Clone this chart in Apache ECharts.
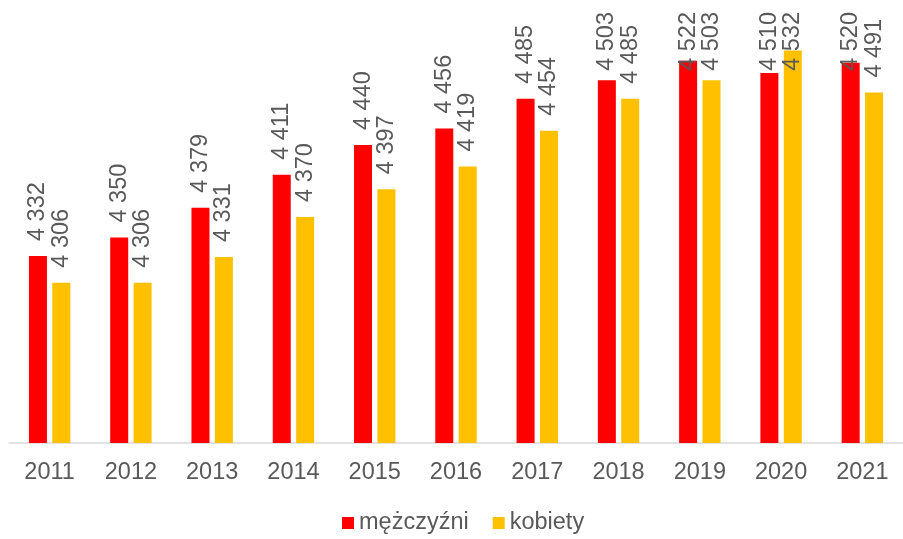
<!DOCTYPE html>
<html lang="pl">
<head>
    <meta charset="UTF-8">
    <title>mężczyźni / kobiety</title>
    <script src="https://cdn.jsdelivr.net/npm/echarts@6/dist/echarts.min.js"></script>
    <style>
        html, body { margin: 0; padding: 0; background: #fff; }
        #main { width: 903px; height: 539px; }
    </style>
</head>
<body>
<div id="main"></div>
<script>
    // dane
    var years = ['2011', '2012', '2013', '2014', '2015', '2016', '2017', '2018', '2019', '2020', '2021'];
    var men = [4332, 4350, 4379, 4411, 4440, 4456, 4485, 4503, 4522, 4510, 4520];
    var women = [4306, 4306, 4331, 4370, 4397, 4419, 4454, 4485, 4503, 4532, 4491];
    var seriesNames = ['mężczyźni', 'kobiety'];

    var textColor = '#595959';
    var fontFamily = '"Liberation Sans", Arial, sans-serif';
    var fontSize = 23.5;

    // format "4 332"
    function fmt(v) {
        return String(v).replace(/\B(?=(\d{3})+(?!\d))/g, ' ');
    }

    var labelOpt = {
        show: true,
        position: 'top',
        rotate: 90,
        align: 'left',
        verticalAlign: 'middle',
        distance: 15,
        color: textColor,
        fontSize: fontSize,
        fontFamily: fontFamily,
        formatter: function (p) { return fmt(p.value); }
    };

    var myChart = echarts.init(document.getElementById('main'), null, {renderer: 'canvas'});

    var option = {
        animation: false,
        color: ['#FF0000', '#FFC000'],
        grid: {left: 9, top: 32, width: 902, height: 411},
        legend: {
            data: seriesNames,
            left: 342,
            top: 511,
            padding: 0,
            icon: 'rect',
            itemWidth: 12,
            itemHeight: 12,
            itemGap: 24,
            textStyle: {color: textColor, fontSize: fontSize, fontFamily: fontFamily}
        },
        xAxis: {
            type: 'category',
            data: years,
            axisTick: {show: false},
            axisLine: {lineStyle: {color: '#d9d9d9', width: 1.5}},
            axisLabel: {color: textColor, fontSize: fontSize, fontFamily: fontFamily, margin: 18}
        },
        yAxis: {
            type: 'value',
            min: 4150,
            max: 4550,
            interval: 50,
            show: false,
            splitLine: {show: false}
        },
        // Excel nie wypuszcza etykiet poza obszar wykresu
        labelLayout: function (params) {
            var r = params.labelRect;
            var top = Math.max(r.y, 12);
            return {y: top + r.height};
        },
        series: [
            {name: seriesNames[0], type: 'bar', data: men, barWidth: 18, barGap: '30%', label: labelOpt},
            {name: seriesNames[1], type: 'bar', data: women, barWidth: 18, barGap: '30%', label: labelOpt}
        ]
    };

    myChart.setOption(option);
</script>
</body>
</html>
